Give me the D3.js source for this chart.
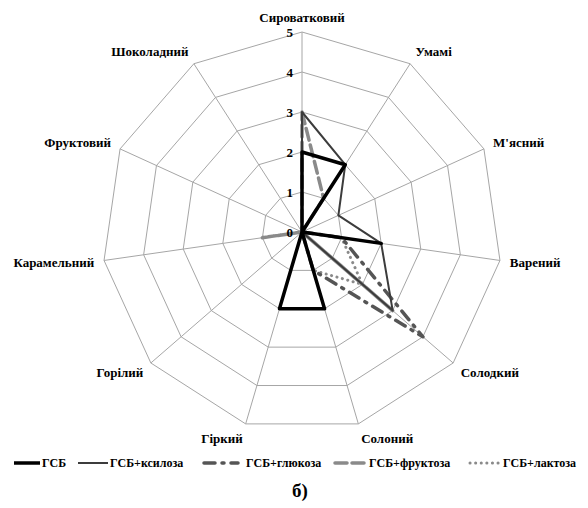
<!DOCTYPE html>
<html>
<head>
<meta charset="utf-8">
<script src="https://cdn.jsdelivr.net/npm/d3@7/dist/d3.min.js"></script>
<style>
  html, body { margin: 0; padding: 0; background: #fff; }
</style>
</head>
<body>
<svg id="chart" width="588" height="508"></svg>
<script>
// Sensory descriptors (clockwise from the top)
const attributes = ["Сироватковий", "Умамі", "М'ясний", "Варений", "Солодкий", "Солоний",
                    "Гіркий", "Горілий", "Карамельний", "Фруктовий", "Шоколадний"];
const scaleTicks = [0, 1, 2, 3, 4, 5];

// Intensity scores per sample
const gsb        = [2, 2, 0, 2, 0, 2, 2, 0, 0, 0, 0];
const gsbXylose  = [3, 2, 1, 2, 3, 0, 0, 0, 0, 0, 0];
const gsbGlucose = [0, 0, 0, 1, 4, 1, 0, 0, 0, 0, 0];
const gsbFructose= [3, 1, 0, 0, 3, 0, 0, 0, 1, 0, 0];
const gsbLactose = [0, 0, 0, 1, 2, 1, 0, 0, 0, 0, 0];

const seriesNames = ["ГСБ", "ГСБ+ксилоза", "ГСБ+глюкоза", "ГСБ+фруктоза", "ГСБ+лактоза"];

const series = [
  { name: seriesNames[0], values: gsb,         color: "#000000", width: 3.5, dash: null,      cap: "butt" },
  { name: seriesNames[1], values: gsbXylose,   color: "#3c3c3c", width: 2,   dash: null,      cap: "butt" },
  { name: seriesNames[2], values: gsbGlucose,  color: "#555555", width: 3.5, dash: "11 7 2 7", cap: "round" },
  { name: seriesNames[3], values: gsbFructose, color: "#8a8a8a", width: 3.5, dash: "12 5",   cap: "round" },
  { name: seriesNames[4], values: gsbLactose,  color: "#8a8a8a", width: 3,   dash: "0.1 5.5", cap: "round" }
];

const FONT = "Tinos, 'Liberation Serif', 'DejaVu Serif', serif";

const svg = d3.select("#chart");
const cx = 302, cy = 232, R = 200;
const n = attributes.length;

const r = d3.scaleLinear().domain([0, 5]).range([0, R]);
const angle = d3.scaleLinear().domain([0, n]).range([0, 2 * Math.PI]);

const pt = (i, v) => [cx + r(v) * Math.sin(angle(i)), cy - r(v) * Math.cos(angle(i))];

function label(x, y, txt, size, anchor) {
  return svg.append("text")
    .attr("x", x).attr("y", y)
    .attr("text-anchor", anchor || "start")
    .style("font-family", FONT)
    .style("font-weight", "700")
    .style("font-size", size + "px")
    .attr("fill", "#000")
    .text(txt);
}

// grid rings
const gridG = svg.append("g");
scaleTicks.slice(1).forEach(t => {
  const ring = d3.range(n).map(i => pt(i, t));
  gridG.append("path")
    .attr("d", d3.line()(ring) + "Z")
    .attr("fill", "none").attr("stroke", "#a6a6a6").attr("stroke-width", 1);
});
// spokes
d3.range(n).forEach(i => {
  const [x, y] = pt(i, 5);
  gridG.append("line")
    .attr("x1", cx).attr("y1", cy).attr("x2", x).attr("y2", y)
    .attr("stroke", "#a6a6a6").attr("stroke-width", 1);
});

// series polygons
const radarLine = d3.lineRadial()
  .angle((d, i) => angle(i))
  .radius(d => r(d))
  .curve(d3.curveLinearClosed);

const seriesG = svg.append("g").attr("transform", `translate(${cx},${cy})`);
series.slice().reverse().forEach(s => {
  seriesG.append("path")
    .attr("d", radarLine(s.values))
    .attr("fill", "none")
    .attr("stroke", s.color)
    .attr("stroke-width", s.width)
    .attr("stroke-dasharray", s.dash)
    .attr("stroke-linecap", s.cap)
    .attr("stroke-linejoin", "round");
});

// value axis labels
scaleTicks.forEach(t => label(cx - 9, cy - r(t) + 4.5, t, 13, "end"));

// descriptor labels
attributes.forEach((a, i) => {
  const [vx, vy] = pt(i, 5);
  const s = Math.sin(angle(i)), c = Math.cos(angle(i));
  const anchor = Math.abs(s) < 0.1 ? "middle" : (s > 0 ? "start" : "end");
  label(vx + 10 * s, vy - 15 * c + 4.5, a, 13, anchor);
});

// legend
const legendY = 467;
const legendItems = [
  { x0: 14,  x1: 40,  tx: 42 },
  { x0: 78,  x1: 108, tx: 110 },
  { x0: 204, x1: 238, tx: 246 },
  { x0: 335, x1: 368, tx: 369 },
  { x0: 470, x1: 500, tx: 503 }
];
series.forEach((s, k) => {
  const L = legendItems[k];
  svg.append("line")
    .attr("x1", L.x0).attr("x2", L.x1).attr("y1", legendY - 4).attr("y2", legendY - 4)
    .attr("stroke", s.color).attr("stroke-width", s.width)
    .attr("stroke-dasharray", s.dash).attr("stroke-linecap", s.cap);
  label(L.tx, legendY, s.name, 12);
});

label(300, 497, "б)", 19, "middle");
</script>
</body>
</html>
